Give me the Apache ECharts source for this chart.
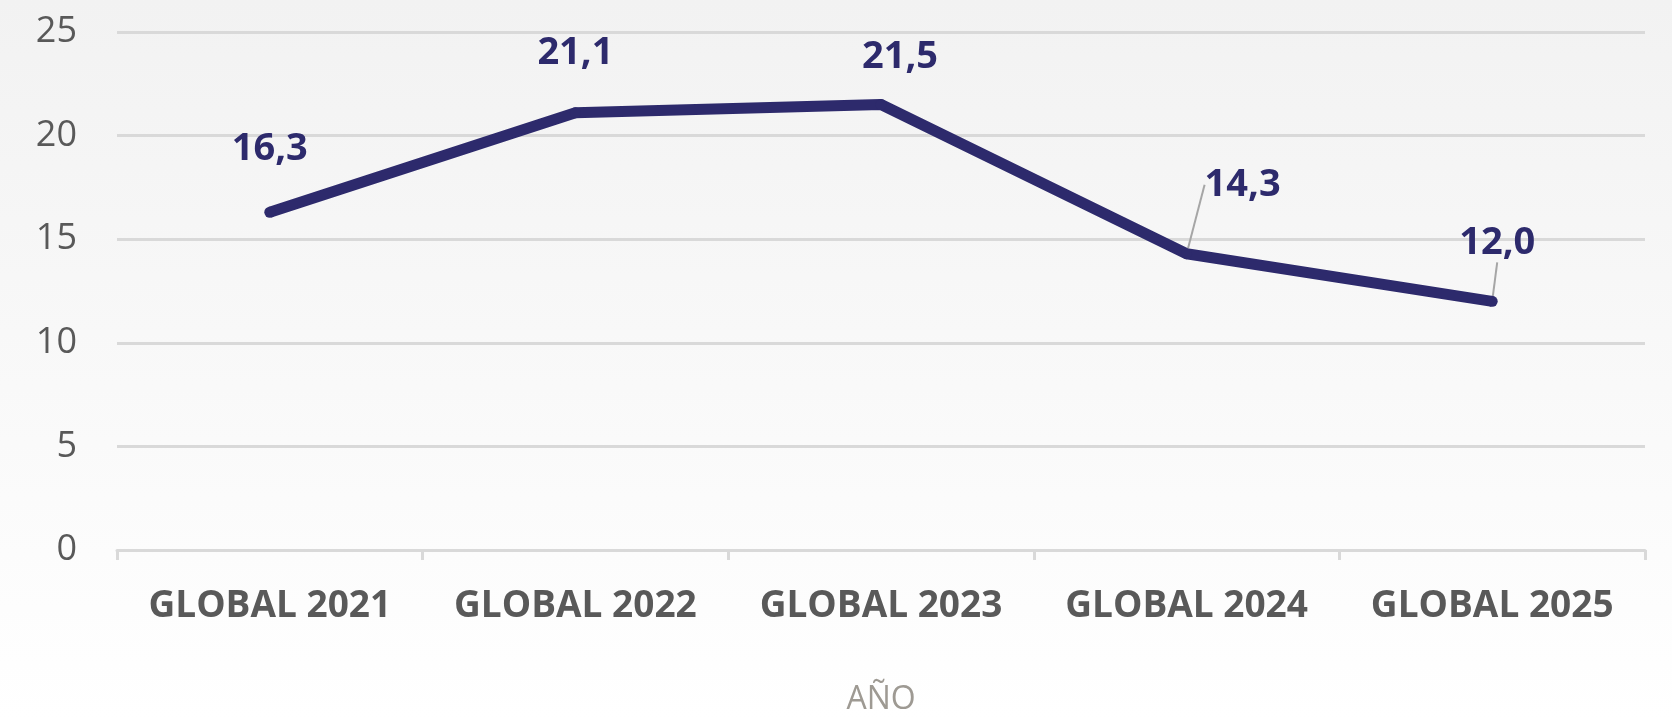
<!DOCTYPE html>
<html>
<head>
<meta charset="utf-8">
<script src="https://cdn.jsdelivr.net/npm/echarts@6/dist/echarts.min.js"></script>
<style>
  html, body { margin: 0; padding: 0; }
  #chart { width: 1672px; height: 719px; }
</style>
</head>
<body>
<div id="chart"></div>
<script>
const categories = ['GLOBAL 2021', 'GLOBAL 2022', 'GLOBAL 2023', 'GLOBAL 2024', 'GLOBAL 2025']
const values = [16.3, 21.1, 21.5, 14.3, 12.0]
const yTicks = [0, 5, 10, 15, 20, 25]

// where each data label sits relative to its point (px), and which ones get a leader line
const labelNudge = [[0, -63], [0, -60], [19, -47], [56, -69], [5, -58]]
const leaderLine = [false, false, false, true, true]

const lineColor = '#2d2a6c'

const chart = echarts.init(document.getElementById('chart'))

chart.setOption({
  backgroundColor: new echarts.graphic.LinearGradient(0, 0, 0, 1, [
    { offset: 0, color: '#f2f2f2' },
    { offset: 1, color: '#ffffff' }
  ]),
  animation: false,
  grid: {
    left: 117,
    right: 27,
    top: 32,
    bottom: 169,
    outerBoundsMode: 'none'
  },
  xAxis: {
    type: 'category',
    data: categories,
    boundaryGap: true,
    name: 'AÑO',
    nameLocation: 'middle',
    nameGap: 134,
    nameTextStyle: {
      color: '#9e9a93',
      fontFamily: 'Open Sans',
      fontSize: 32
    },
    axisLine: {
      lineStyle: { color: '#d9d9d9', width: 3 }
    },
    axisTick: {
      show: true,
      length: 10,
      lineStyle: { color: '#d9d9d9', width: 3 }
    },
    axisLabel: {
      interval: 0,
      color: '#595959',
      fontFamily: 'Open Sans',
      fontWeight: 'bold',
      fontSize: 37,
      margin: 38
    }
  },
  yAxis: {
    type: 'value',
    min: yTicks[0],
    max: yTicks[yTicks.length - 1],
    interval: 5,
    axisLine: { show: false },
    axisTick: { show: false },
    splitLine: {
      lineStyle: { color: '#d9d9d9', width: 3 }
    },
    axisLabel: {
      color: '#595959',
      fontFamily: 'Open Sans',
      fontSize: 36,
      margin: 40
    }
  },
  series: [
    {
      type: 'line',
      data: values.map((v, i) => ({
        value: v,
        labelLine: { show: leaderLine[i] }
      })),
      symbol: 'circle',
      symbolSize: 11,
      itemStyle: { color: lineColor },
      lineStyle: { color: lineColor, width: 11 },
      label: {
        show: true,
        position: 'inside',
        color: lineColor,
        fontFamily: 'Open Sans',
        fontWeight: 'bold',
        fontSize: 38,
        formatter: p => p.value.toFixed(1).replace('.', ',')
      },
      labelLine: {
        show: true,
        lineStyle: { color: '#a6a6a6', width: 2 }
      },
      labelLayout: p => ({
        dx: labelNudge[p.dataIndex][0],
        dy: labelNudge[p.dataIndex][1]
      })
    }
  ]
})
</script>
</body>
</html>
